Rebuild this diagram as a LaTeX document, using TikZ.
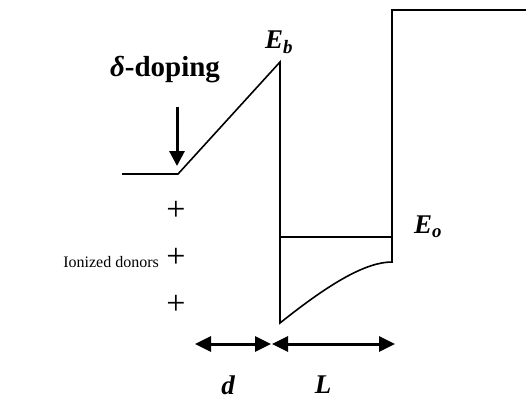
\documentclass[tikz,border=0pt]{standalone}
\usepackage{fontspec}
\setmainfont{Liberation Serif}
\usetikzlibrary{arrows.meta}
\tikzset{
  band/.style={line width=1.6pt, line join=miter},
  lbl/.style={font=\bfseries\itshape\fontsize{27}{27}\selectfont, inner sep=0pt},
  plus/.style={font=\fontsize{34}{34}\selectfont, inner sep=0pt},
  bigarrow/.style={line width=3pt, -{Triangle[length=15pt, width=15pt]}},
  dimarrow/.style={line width=3pt, {Triangle[length=16pt, width=15pt]}-{Triangle[length=16pt, width=15pt]}},
}

\begin{document}
\begin{tikzpicture}[x=1pt, y=-1pt]
    \useasboundingbox (0,0) rectangle (526,400);
    % band edges
    \coordinate (lft) at (122,174);
    \coordinate (kink) at (178,174);
    \coordinate (top) at (280,62);
    \coordinate (bot) at (280,323);
    \coordinate (wellr) at (392,262);
    \coordinate (barr) at (392,10);
    \draw[band] (lft) -- (kink) -- (top) -- (bot)
      .. controls (330,283) and (366,262) .. (wellr) -- (barr) -- (526,10);
    \draw[band] (280,237) -- (392,237);
    % labels
    \node[lbl] (eb) at (279,42) {E\textsubscript{b}};
    \node[lbl] (eo) at (428,227) {E\textsubscript{o}};
    \node[inner sep=0pt, font=\bfseries\fontsize{29}{29}\selectfont] (dop) at (165,70) {\textit{δ}-doping};
    \coordinate (arrtop) at (177,107);
    \draw[bigarrow] (arrtop) -- (177,166);
    \node[plus] (p1) at (176,211) {+};
    \node[plus] (p2) at (176,258) {+};
    \node[plus] (p3) at (176,305) {+};
    \node[anchor=east, inner sep=0pt, font=\fontsize{16}{16}\selectfont] (ion) at (159,262) {Ionized donors};
    % widths
    \coordinate (da) at (195,344);
    \coordinate (db) at (271,344);
    \coordinate (la) at (272,344);
    \coordinate (lb) at (395,344);
    \draw[dimarrow] (da) -- (db);
    \draw[dimarrow] (la) -- (lb);
    \node[lbl] (dl) at (228,385) {d};
    \node[lbl] (ll) at (323,385) {L};
\end{tikzpicture}
\end{document}
